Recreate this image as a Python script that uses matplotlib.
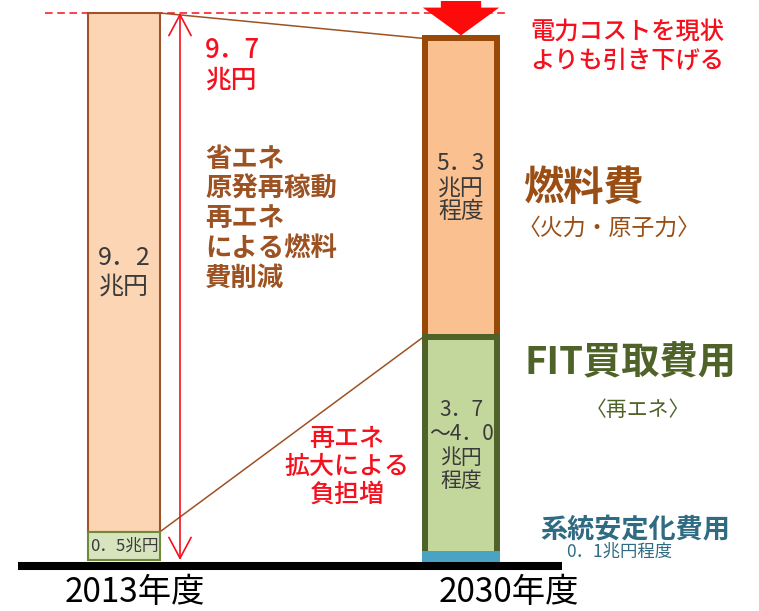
import matplotlib.pyplot as plt
from matplotlib.patches import FancyArrowPatch

plt.rcParams["font.family"] = ["Noto Sans CJK JP", "DejaVu Sans"]

# 電力コストの内訳 (兆円)
years = ["2013年度", "2030年度"]
fuel_cost = [9.2, 5.3]     # 燃料費 (火力・原子力)
fit_cost = [0.5, 3.85]     # FIT買取費用, 2030年度は 3.7〜4.0 の中央
grid_cost = [0.0, 0.1]     # 系統安定化費用
fuel_labels = ["9．2\n兆円", "5．3\n兆円\n程度"]
fit_labels = ["0．5兆円", "3．7\n～4．0\n兆円\n程度"]
grid_label = "0．1兆円程度"
total_label = "9．7\n兆円"

totals = [f + r + g for f, r, g in zip(fuel_cost, fit_cost, grid_cost)]

W, H = 759, 611
BASE_ROW, TOP_ROW = 560, 13          # pixel rows of zero and of the 2013 total
ppu = (BASE_ROW - TOP_ROW) / totals[0]
xs = [124, 461]
bar_w = 72

RED = "#F5101E"
BROWN = "#9C5222"
OLIVE = "#4F6228"
TEAL = "#2F6B82"
INK = "#3A3A3A"

fig = plt.figure(figsize=(W / 100, H / 100), dpi=100)
ax = fig.add_axes([0, 0, 1, 1])
ax.set_xlim(0, W)
ax.set_ylim(-(H - BASE_ROW) / ppu, BASE_ROW / ppu)
ax.axis("off")


def at(px, py):
    """pixel position -> figure fraction"""
    return px / W, 1 - py / H


# 2013: FIT at the bottom, fuel on top
ax.bar(xs[0], fit_cost[0], bar_w, color="#D7E4BD", edgecolor="#6E8A3A", lw=1.5, zorder=3)
ax.bar(xs[0], fuel_cost[0], bar_w, bottom=fit_cost[0], color="#FCD5B5",
       edgecolor="#A0522D", lw=1.5, zorder=2)

# 2030: thick outlines, lower segments drawn over upper ones
b_fit = grid_cost[1]
b_fuel = grid_cost[1] + fit_cost[1]
ax.bar(xs[1], fuel_cost[1], bar_w, bottom=b_fuel, color="#FAC090",
       edgecolor="#984807", lw=4.3, zorder=2)
ax.bar(xs[1], fit_cost[1], bar_w, bottom=b_fit, color="#C3D69B",
       edgecolor=OLIVE, lw=4.3, zorder=3)
ax.bar(xs[1], grid_cost[1], bar_w, color="#93CDDD", edgecolor="#4AA3C2", lw=4.3, zorder=4)

# value labels inside segments
ax.text(xs[0], fit_cost[0] / 2, fit_labels[0], ha="center", va="center",
        fontsize=12, color=INK, zorder=5)
ax.text(xs[0], fit_cost[0] + fuel_cost[0] / 2, fuel_labels[0], ha="center",
        va="center", fontsize=18, color=INK, linespacing=1.15, zorder=5)
ax.text(xs[1], b_fuel + fuel_cost[1] / 2, fuel_labels[1], ha="center",
        va="center", fontsize=16.5, color=INK, linespacing=1.05, zorder=5)
ax.text(xs[1], b_fit + fit_cost[1] / 2, fit_labels[1], ha="center",
        va="center", fontsize=15, color=INK, linespacing=1.1, zorder=5)

# guide lines between the two bars
half = bar_w / 2
ax.plot([xs[0] + half, xs[1] - half - 2], [totals[0], totals[1]], color=BROWN, lw=1.1, zorder=1)
ax.plot([xs[0] + half, xs[1] - half - 2], [fit_cost[0], b_fuel], color=BROWN, lw=1.1, zorder=1)

# dashed level of the 2013 total
ax.plot([45, 505], [totals[0], totals[0]], color=RED, lw=1.1, dashes=(5, 3), zorder=1)

# baseline
ax.plot([18, 562], [-0.107, -0.107], color="black", lw=5.8, solid_capstyle="butt", zorder=6)

# 9.7 span arrow
span = FancyArrowPatch((180, 0), (180, totals[0]), arrowstyle="<->,head_length=15,head_width=8",
                       mutation_scale=1, color=RED, lw=1.2, shrinkA=0, shrinkB=0, zorder=4)
ax.add_patch(span)

# downward block arrow onto the 2030 bar
tip = totals[1] + 3 / ppu
drop = FancyArrowPatch((xs[1], (BASE_ROW - 1) / ppu), (xs[1], tip),
                       arrowstyle="simple,head_length=20,head_width=55,tail_width=29",
                       mutation_scale=1, color="#FF0A0A", lw=0, shrinkA=0, shrinkB=0, zorder=5)
ax.add_patch(drop)

# annotations
fig.text(*at(205, 65), total_label, color=RED, fontsize=18.5, ha="left", va="center",
         linespacing=1.1, weight="medium")
fig.text(*at(530, 46), "電力コストを現状\nよりも引き下げる", color=RED, fontsize=17.5,
         ha="left", va="center", linespacing=1.15, weight="medium")
fig.text(*at(205, 219), "省エネ\n原発再稼動\n再エネ\nによる燃料\n費削減", color=BROWN,
         fontsize=19, ha="left", va="center", linespacing=1.13, weight="bold")
fig.text(*at(523, 188), "燃料費", color="#9A4E14", fontsize=29, ha="left", va="center",
         weight="bold")
fig.text(*at(518, 228), "〈火力・原子力〉", color="#9A4E14", fontsize=16.5, ha="left",
         va="center")
fig.text(*at(525, 363), "FIT買取費用", color=OLIVE, fontsize=27.5, ha="left", va="center",
         weight="bold")
fig.text(*at(586, 410), "〈再エネ〉", color=OLIVE, fontsize=15, ha="left", va="center")
fig.text(*at(540, 530), "系統安定化費用", color=TEAL, fontsize=19.5, ha="left", va="center",
         weight="bold")
fig.text(*at(566, 552), grid_label, color=TEAL, fontsize=12.5, ha="left", va="center")
fig.text(*at(347, 467), "再エネ\n拡大による\n負担増", color=RED, fontsize=18, ha="center",
         va="center", linespacing=1.1, weight="medium")

# year labels
fig.text(*at(135, 610), years[0], fontsize=24, ha="center", va="bottom", color="black")
fig.text(*at(509, 610), years[1], fontsize=24, ha="center", va="bottom", color="black")

fig.savefig("out.png", dpi=100)
